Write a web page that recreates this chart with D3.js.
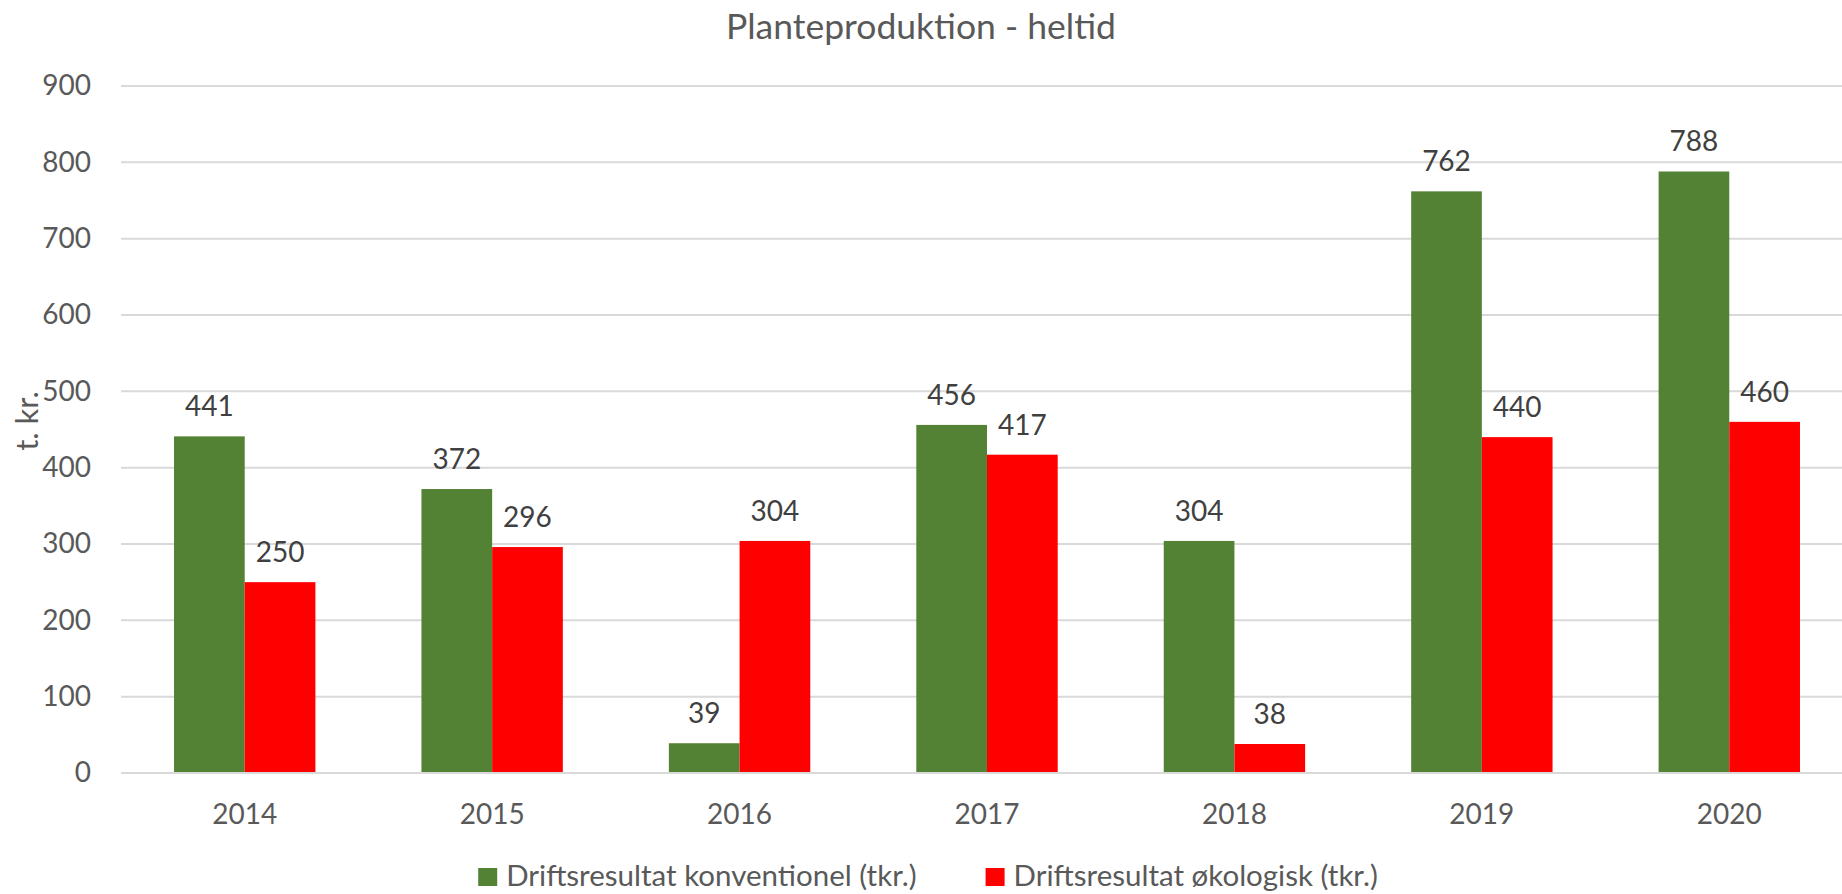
<!DOCTYPE html>
<html>
<head>
<meta charset="utf-8">
<script src="https://cdn.jsdelivr.net/npm/d3@7"></script>
<style>
  body { margin: 0; background: #fff; }
  svg { display: block; font-family: Lato, "Open Sans", sans-serif; }
</style>
</head>
<body>
<svg id="chart" width="1842" height="894"></svg>
<script>
// Data
const years = ["2014", "2015", "2016", "2017", "2018", "2019", "2020"];
const seriesNames = ["Driftsresultat konventionel (tkr.)", "Driftsresultat økologisk (tkr.)"];
const conventional = [441, 372, 39, 456, 304, 762, 788];
const organic = [250, 296, 304, 417, 38, 440, 460];
const yTicks = [0, 100, 200, 300, 400, 500, 600, 700, 800, 900];
const colors = ["#548235", "#ff0000"];

const svg = d3.select("#chart");
const width = +svg.attr("width");

// plot area (the right edge runs a bit past the picture, as in the original)
const plot = { left: 121, right: 1853, top: 86, bottom: 773 };

const rows = years.map((y, i) => ({ year: y, values: [conventional[i], organic[i]] }));

// Excel-like gap width 150%
const x0 = d3.scaleBand()
  .domain(years)
  .range([plot.left, plot.right])
  .paddingInner(1.5 / 3.5)
  .paddingOuter(0.75 / 3.5);

const x1 = d3.scaleBand()
  .domain([0, 1])
  .range([0, x0.bandwidth()]);

const y = d3.scaleLinear()
  .domain([0, 900])
  .range([plot.bottom, plot.top]);

// Title
svg.append("text")
  .attr("x", width / 2)
  .attr("y", 39)
  .attr("text-anchor", "middle")
  .style("font-size", "35.5px")
  .attr("fill", "#595959")
  .text("Planteproduktion - heltid");

// Gridlines
svg.append("g")
  .selectAll("line")
  .data(yTicks)
  .enter().append("line")
  .attr("x1", plot.left)
  .attr("x2", plot.right)
  .attr("y1", d => y(d))
  .attr("y2", d => y(d))
  .attr("stroke", "#d9d9d9")
  .attr("stroke-width", 2);

// Y axis (labels only)
const yAxis = d3.axisLeft(y).tickValues(yTicks).tickSize(0).tickPadding(30);
const yAxisG = svg.append("g")
  .attr("transform", `translate(${plot.left},0)`)
  .call(yAxis);
yAxisG.select(".domain").remove();
yAxisG.selectAll("text")
  .style("font-family", "Lato, sans-serif")
  .style("font-size", "28px")
  .attr("fill", "#595959");

// X axis (labels only)
const xAxis = d3.axisBottom(x0).tickSize(0).tickPadding(31);
const xAxisG = svg.append("g")
  .attr("transform", `translate(0,${plot.bottom})`)
  .call(xAxis);
xAxisG.select(".domain").remove();
xAxisG.selectAll("text")
  .style("font-family", "Lato, sans-serif")
  .style("font-size", "28px")
  .attr("fill", "#595959");

// Bars
const groups = svg.append("g")
  .selectAll("g")
  .data(rows)
  .enter().append("g")
  .attr("transform", d => `translate(${x0(d.year)},0)`);

groups.selectAll("rect")
  .data(d => d.values)
  .enter().append("rect")
  .attr("x", (d, i) => x1(i))
  .attr("y", d => y(d))
  .attr("width", x1.bandwidth())
  .attr("height", d => y(0) - y(d))
  .attr("fill", (d, i) => colors[i]);

// Value labels
groups.selectAll("text")
  .data(d => d.values)
  .enter().append("text")
  .attr("x", (d, i) => x1(i) + x1.bandwidth() / 2)
  .attr("y", d => y(d) - 20)
  .attr("text-anchor", "middle")
  .style("font-size", "28px")
  .attr("fill", "#404040")
  .text(d => d);

// Zero line on top
svg.append("line")
  .attr("x1", plot.left)
  .attr("x2", plot.right)
  .attr("y1", y(0))
  .attr("y2", y(0))
  .attr("stroke", "#d9d9d9")
  .attr("stroke-width", 2);

// Y axis title
svg.append("text")
  .attr("transform", "translate(38,421) rotate(-90)")
  .attr("text-anchor", "middle")
  .style("font-size", "31px")
  .attr("fill", "#595959")
  .text("t. kr.");

// Legend
const legend = svg.append("g");
let lx = 0;
seriesNames.forEach((name, i) => {
  const item = legend.append("g").attr("transform", `translate(${lx},0)`);
  item.append("rect")
    .attr("x", 0)
    .attr("y", 868)
    .attr("width", 19)
    .attr("height", 18)
    .attr("fill", colors[i]);
  const t = item.append("text")
    .attr("x", 28)
    .attr("y", 886)
    .style("font-size", "29.5px")
    .attr("fill", "#595959")
    .text(name);
  lx += 28 + t.node().getComputedTextLength() + 69;
});
const legendWidth = lx - 69;
legend.attr("transform", `translate(${928 - legendWidth / 2},0)`);
</script>
</body>
</html>
